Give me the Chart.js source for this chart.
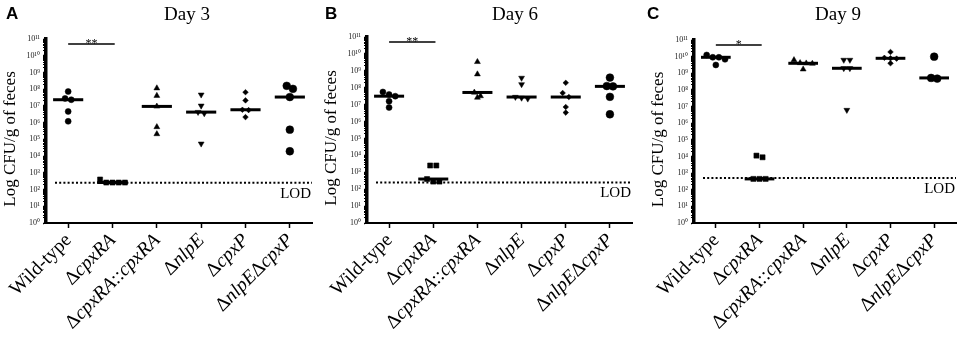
<!DOCTYPE html>
<html>
<head>
<meta charset="utf-8">
<script src="https://cdn.jsdelivr.net/npm/chart.js@4.4.1/dist/chart.umd.min.js"></script>
<style>
  html, body { margin: 0; padding: 0; background: #fff; }
  #wrap { position: relative; width: 963px; height: 337px; overflow: hidden; }
  .panel { position: absolute; top: 0; height: 337px; }
</style>
</head>
<body>
<div id="wrap">
  <div class="panel" style="left:0px;width:320px"><canvas id="cA" width="320" height="337"></canvas></div>
  <div class="panel" style="left:320px;width:320px"><canvas id="cB" width="320" height="337"></canvas></div>
  <div class="panel" style="left:640px;width:323px"><canvas id="cC" width="323" height="337"></canvas></div>
</div>
<script>
// strains on the x axis
const categories = ['Wild-type', 'ΔcpxRA', 'ΔcpxRA::cpxRA', 'ΔnlpE', 'ΔcpxP', 'ΔnlpEΔcpxP'];
const panelLetters = ['A', 'B', 'C'];
const dayTitles = ['Day 3', 'Day 6', 'Day 9'];

// log10 CFU/g of feces, one list per strain
const day3 = [
  [7.86, 7.45, 7.37, 6.67, 6.08],
  [2.6, 2.42, 2.42, 2.42, 2.42],
  [8.06, 7.61, 6.97, 5.74, 5.32],
  [7.67, 7.01, 6.63, 6.55, 4.74],
  [7.82, 7.33, 6.77, 6.75, 6.33],
  [8.2, 8.02, 7.53, 5.58, 4.29]
];
const day6 = [
  [7.75, 7.6, 7.5, 7.2, 6.83],
  [3.4, 3.4, 2.6, 2.45, 2.45],
  [9.53, 8.8, 7.72, 7.51, 7.42],
  [8.58, 8.2, 7.45, 7.4, 7.35],
  [8.29, 7.69, 7.45, 6.86, 6.53],
  [8.6, 8.1, 8.08, 7.46, 6.43]
];
const day9 = [
  [10.1, 9.96, 9.96, 9.84, 9.5],
  [4.05, 3.95, 2.65, 2.65, 2.65],
  [9.8, 9.62, 9.6, 9.58, 9.24],
  [9.8, 9.8, 9.3, 9.3, 6.79],
  [10.28, 9.93, 9.9, 9.88, 9.6],
  [10.0, 8.72, 8.68]
];
const lodLog = [2.4, 2.4, 2.7];       // limit of detection per day
const sigMarks = ['**', '**', '*'];   // Wild-type vs ΔcpxRA
const yDecades = [0, 1, 2, 3, 4, 5, 6, 7, 8, 9, 10, 11];

const SERIF = '"Liberation Serif", "Times New Roman", serif';
const SANS = '"Liberation Sans", Arial, sans-serif';
const SIG_LEVEL = 10.7;
const LABEL_SIZE = 19.5;

// marker per strain
const markers = [
  { style: 'circle', radius: 3, rotation: 0 },
  { style: 'rect', radius: 3.6, rotation: 0 },
  { style: 'triangle', radius: 3.4, rotation: 0 },
  { style: 'triangle', radius: 3.4, rotation: 180 },
  { style: 'rectRot', radius: 2.8, rotation: 0 },
  { style: 'circle', radius: 3.9, rotation: 0 }
];

const panels = [
  { id: 'cA', values: day3, left: 46, top: 39, right: 8, titleX: 187, letterX: 6 },
  { id: 'cB', values: day6, left: 47, top: 37, right: 8, titleX: 195, letterX: 5 },
  { id: 'cC', values: day9, left: 54, top: 40, right: 7, titleX: 198, letterX: 7 }
];

const supDigits = ['⁰', '¹', '²', '³', '⁴', '⁵', '⁶', '⁷', '⁸', '⁹'];
function sup(n) {
  return String(n).split('').map(d => supDigits[+d]).join('');
}

function median(arr) {
  const s = arr.slice().sort((a, b) => a - b);
  const m = Math.floor(s.length / 2);
  return s.length % 2 ? s[m] : (s[m - 1] + s[m]) / 2;
}

// spread points with close values side by side, like a column scatter
function spread(vals) {
  const idx = vals.map((v, i) => i).sort((a, b) => vals[b] - vals[a]);
  const offs = new Array(vals.length).fill(0);
  let group = [];
  const flush = () => {
    group.forEach((k, j) => { offs[k] = (j - (group.length - 1) / 2) * 0.14; });
    group = [];
  };
  idx.forEach(k => {
    if (group.length && vals[group[0]] - vals[k] > 0.28) flush();
    group.push(k);
  });
  flush();
  return offs;
}

function splitLabel(label) {
  if (label === 'Wild-type') return [{ t: label, it: false }];
  const segs = [];
  for (const ch of label) {
    const it = /[A-Za-z]/.test(ch);
    if (segs.length && segs[segs.length - 1].it === it) segs[segs.length - 1].t += ch;
    else segs.push({ t: ch, it });
  }
  return segs;
}

function drawLabel(ctx, label, x, y) {
  const segs = splitLabel(label);
  let total = 0;
  segs.forEach(s => {
    ctx.font = (s.it ? 'italic ' : '') + LABEL_SIZE + 'px ' + SERIF;
    s.w = ctx.measureText(s.t).width;
    total += s.w;
  });
  ctx.save();
  ctx.translate(x, y);
  ctx.rotate(-Math.PI / 4);
  ctx.textAlign = 'left';
  ctx.textBaseline = 'alphabetic';
  let cx = -total;
  segs.forEach(s => {
    ctx.font = (s.it ? 'italic ' : '') + LABEL_SIZE + 'px ' + SERIF;
    ctx.fillText(s.t, cx, 0);
    cx += s.w;
  });
  ctx.restore();
}

panels.forEach((p, pi) => {
  const datasets = [];
  p.values.forEach((vals, i) => {
    const offs = spread(vals);
    const m = median(vals);
    datasets.push({
      type: 'line',
      data: [{ x: i - 0.34, y: m }, { x: i + 0.34, y: m }],
      borderColor: '#000',
      borderWidth: 3,
      pointRadius: 0,
      showLine: true
    });
    datasets.push({
      type: 'scatter',
      data: vals.map((v, k) => ({ x: i + offs[k], y: v })),
      pointStyle: markers[i].style,
      pointRadius: markers[i].radius,
      rotation: markers[i].rotation,
      backgroundColor: '#000',
      borderColor: '#000',
      borderWidth: 0.5
    });
  });

  const overlay = {
    id: 'overlay' + pi,
    beforeDatasetsDraw(chart) {
      const { ctx, chartArea, scales } = chart;
      const yl = scales.y.getPixelForValue(lodLog[pi]);
      ctx.save();
      ctx.strokeStyle = '#000';
      ctx.lineWidth = 2;
      ctx.setLineDash([2, 2.2]);
      ctx.beginPath();
      ctx.moveTo(chartArea.left + 9, yl);
      ctx.lineTo(chartArea.right, yl);
      ctx.stroke();
      ctx.setLineDash([]);
      ctx.fillStyle = '#000';
      ctx.font = '15px ' + SERIF;
      ctx.textAlign = 'right';
      ctx.textBaseline = 'alphabetic';
      ctx.fillText('LOD', chartArea.right - 1, yl + 15);
      ctx.restore();
    },
    afterDraw(chart) {
      const { ctx, chartArea, scales } = chart;
      ctx.save();
      ctx.fillStyle = '#000';
      ctx.strokeStyle = '#000';

      // panel letter and title
      ctx.font = 'bold 17px ' + SANS;
      ctx.textAlign = 'left';
      ctx.textBaseline = 'alphabetic';
      ctx.fillText(panelLetters[pi], p.letterX, 19);
      ctx.font = '19px ' + SERIF;
      ctx.textAlign = 'center';
      ctx.fillText(dayTitles[pi], p.titleX, 20);

      // y axis title
      ctx.save();
      ctx.translate(chartArea.left - 35, (chartArea.top + chartArea.bottom) / 2 + 8);
      ctx.rotate(-Math.PI / 2);
      ctx.font = '17px ' + SERIF;
      ctx.textAlign = 'center';
      ctx.textBaseline = 'middle';
      ctx.fillText('Log CFU/g of feces', 0, 0);
      ctx.restore();

      // significance bar
      const ys = scales.y.getPixelForValue(SIG_LEVEL);
      const x0 = scales.x.getPixelForValue(0);
      const x1 = scales.x.getPixelForValue(1.05);
      ctx.lineWidth = 1.5;
      ctx.beginPath();
      ctx.moveTo(x0, ys);
      ctx.lineTo(x1, ys);
      ctx.stroke();
      ctx.font = '12px ' + SERIF;
      ctx.textAlign = 'center';
      ctx.fillText(sigMarks[pi], (x0 + x1) / 2, ys + 3);

      // rotated strain names
      categories.forEach((c, i) => {
        drawLabel(ctx, c, scales.x.getPixelForValue(i) + 4, chartArea.bottom + 18);
      });
      ctx.restore();
    }
  };

  new Chart(document.getElementById(p.id), {
    type: 'scatter',
    data: { datasets },
    options: {
      responsive: false,
      animation: false,
      events: [],
      layout: { padding: { left: 0, right: p.right, top: p.top, bottom: 0 } },
      plugins: { legend: { display: false }, tooltip: { enabled: false }, title: { display: false } },
      scales: {
        x: {
          type: 'linear',
          min: -0.5,
          max: 5.5,
          afterBuildTicks: s => { s.ticks = categories.map((c, i) => ({ value: i })); },
          afterFit: s => { s.height = 337 - 223; },
          ticks: { display: false },
          grid: { drawOnChartArea: false, drawTicks: true, tickLength: 5, tickWidth: 1.5, tickColor: '#000' },
          border: { display: true, color: '#000', width: 2 }
        },
        y: {
          type: 'linear',
          min: 0,
          max: 11,
          afterBuildTicks: s => {
            const t = [];
            yDecades.forEach(n => {
              t.push({ value: n });
              if (n < 11) for (let k = 2; k <= 9; k++) t.push({ value: n + Math.log10(k) });
            });
            s.ticks = t;
          },
          afterFit: s => { s.width = p.left; },
          ticks: {
            autoSkip: false,
            padding: 3,
            color: '#222',
            font: { family: SERIF, size: 8 },
            callback: v => Number.isInteger(v) ? '10' + sup(v) : ''
          },
          grid: {
            drawOnChartArea: false,
            drawTicks: true,
            tickLength: 3,
            tickColor: '#000',
            tickWidth: c => Number.isInteger(c.tick.value) ? 1.5 : 1
          },
          border: { display: true, color: '#000', width: 3.5 }
        }
      }
    },
    plugins: [overlay]
  });
});
</script>
</body>
</html>
